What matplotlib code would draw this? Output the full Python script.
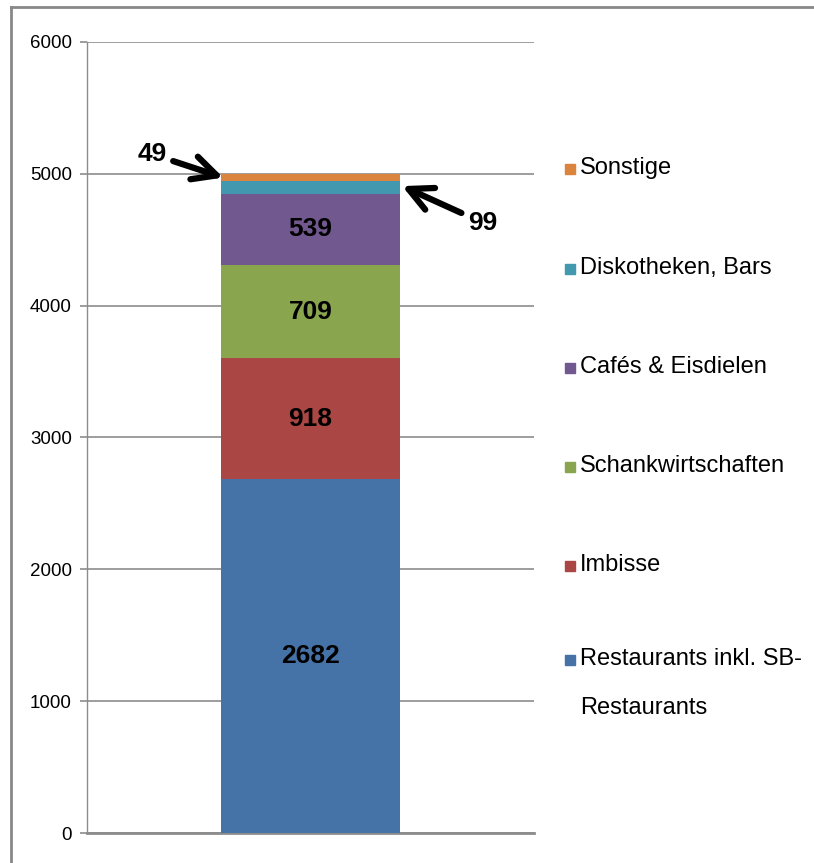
#!/usr/bin/env python3
import matplotlib
matplotlib.use('Agg')
import matplotlib.pyplot as plt
from matplotlib.patches import Rectangle
from matplotlib.lines import Line2D

categories = ['Restaurants inkl. SB-\nRestaurants', 'Imbisse', 'Schankwirtschaften',
              'Cafés & Eisdielen', 'Diskotheken, Bars', 'Sonstige']
values = [2682, 918, 709, 539, 99, 49]
colors = ['#4572A7', '#AA4643', '#89A54E', '#71588F', '#4198AF', '#DB843D']
yticks = [0, 1000, 2000, 3000, 4000, 5000, 6000]

plt.rcParams['font.family'] = ['Liberation Sans Narrow', 'Liberation Sans', 'DejaVu Sans']

fig = plt.figure(figsize=(8.14, 8.63), dpi=100)
ax = fig.add_axes([87 / 814, 30 / 863, 447 / 814, 791 / 863])

bottom = 0
for val, col in zip(values, colors):
    ax.bar(0, val, width=0.8, bottom=bottom, color=col, zorder=3)
    if val > 300:
        ax.text(0, bottom + val / 2, str(val), ha='center', va='center',
                fontsize=19, fontweight='bold', color='black', zorder=4)
    bottom += val

# small segments labelled with arrows
top = sum(values)
arrow = dict(arrowstyle='->, head_length=0.9, head_width=0.45',
             lw=4.5, color='black', shrinkA=3, shrinkB=0)
ax.annotate(str(values[5]), xy=(-0.39, top - values[5] / 2), xytext=(-0.71, 5150),
            ha='center', va='center', fontsize=19, fontweight='bold', arrowprops=arrow)
ax.annotate(str(values[4]), xy=(0.41, top - values[5] - 40), xytext=(0.77, 4630),
            ha='center', va='center', fontsize=19, fontweight='bold', arrowprops=arrow)

ax.set_xlim(-1, 1)
ax.set_ylim(0, 6000)
ax.set_yticks(yticks)
ax.set_xticks([])
ax.yaxis.grid(True, color='#8c8c8c', lw=1.2, zorder=0)
ax.tick_params(axis='y', length=5, width=1.2, color='#8c8c8c', labelsize=13.5, pad=6)
for s in ['top', 'right']:
    ax.spines[s].set_visible(False)
ax.spines['left'].set_color('#8c8c8c')
ax.spines['left'].set_linewidth(1)
ax.spines['bottom'].set_color('#8c8c8c')
ax.spines['bottom'].set_linewidth(2)

# legend drawn at right, top entry = last series
leg_y = [169, 269, 368, 467, 566, 660]
for i, (lab, col) in enumerate(zip(categories[::-1], colors[::-1])):
    yp = 1 - leg_y[i] / 863
    fig.patches.append(Rectangle((565 / 814, yp - 5 / 863), 10 / 814, 10 / 863,
                                 transform=fig.transFigure, color=col))
    fig.text(580 / 814, yp + 12 / 863, lab, ha='left', va='top', fontsize=17,
             linespacing=2.6)

# outer frame, top and left only
fig.lines.append(Line2D([11 / 814, 1], [1 - 7 / 863, 1 - 7 / 863],
                        transform=fig.transFigure, color='#888888', lw=2))
fig.lines.append(Line2D([11 / 814, 11 / 814], [0, 1 - 7 / 863],
                        transform=fig.transFigure, color='#888888', lw=2))

fig.savefig('out.png', dpi=100)
